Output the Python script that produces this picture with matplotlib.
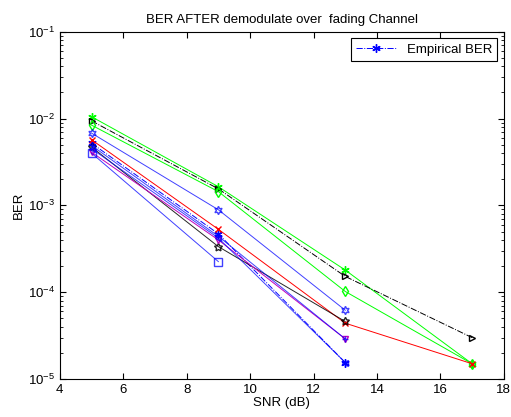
import numpy as np
import matplotlib
matplotlib.use("Agg")
import matplotlib.pyplot as plt

plt.rcParams['font.family'] = ['Liberation Sans', 'DejaVu Sans']
plt.rcParams['font.size'] = 9.5
plt.rcParams['mathtext.default'] = 'regular'

# SNR points (dB)
snr = [5, 9, 13, 17]

# BER curves
ber_empirical = [5.2e-3, 4.7e-4, 1.55e-5]
ber_green_star = [1.05e-2, 1.64e-3, 1.8e-4, 1.5e-5]
ber_black_tri = [9.4e-3, 1.55e-3, 1.52e-4, 3.0e-5]
ber_green_dia = [8.4e-3, 1.44e-3, 1.02e-4, 1.5e-5]
ber_blue_hex = [6.8e-3, 8.9e-4, 6.2e-5]
ber_red_x = [5.7e-3, 5.3e-4, 4.4e-5, 1.5e-5]
ber_black_pent = [4.7e-3, 3.35e-4, 4.6e-5]
ber_magenta_tri = [4.1e-3, 4.0e-4, 2.9e-5]
ber_blue_plus = [4.9e-3, 4.4e-4, 2.9e-5]
ber_blue_sq = [4.0e-3, 2.25e-4]
ber_blue_left = [4.5e-3, 4.2e-4, 1.55e-5]

# matlab-like markers
asterisk = (6, 2, 0)
hexagram = (6, 1, 0)
pentagram = (5, 1, 0)

fig, ax = plt.subplots(figsize=(5.11, 4.17), dpi=100)
fig.subplots_adjust(left=0.117, right=0.986, bottom=0.091, top=0.924)

lw = 0.7
ms = 5
ax.semilogy(snr[:3], ber_empirical, '-.', color='b', marker=asterisk, ms=ms + 1, lw=lw,
            label='Empirical BER')
ax.semilogy(snr, ber_green_star, '-', color='#00ff00', marker=asterisk, ms=ms + 1, lw=lw)
ax.semilogy(snr, ber_black_tri, '-.', color='k', marker='>', ms=ms, lw=lw, mfc='none')
ax.semilogy(snr, ber_green_dia, '-', color='#00ff00', marker='d', ms=ms, lw=lw, mfc='none')
ax.semilogy(snr[:3], ber_blue_hex, '-', color='b', marker=hexagram, ms=ms + 1, lw=lw,
            mfc='none', alpha=0.75)
ax.semilogy(snr, ber_red_x, '-', color='r', marker='x', ms=ms, lw=lw)
ax.semilogy(snr[:3], ber_black_pent, '-', color='k', marker=pentagram, ms=ms + 1, lw=lw,
            mfc='none', alpha=0.85)
ax.semilogy(snr[:3], ber_magenta_tri, '-', color='m', marker='v', ms=ms, lw=lw, mfc='none')
ax.semilogy(snr[:3], ber_blue_plus, '-', color='b', marker='+', ms=ms, lw=lw, alpha=0.75)
ax.semilogy(snr[:2], ber_blue_sq, '-', color='b', marker='s', ms=ms + 1, lw=lw,
            mfc='none', alpha=0.75)
ax.semilogy(snr[:3], ber_blue_left, '-', color='b', marker='<', ms=ms, lw=lw,
            mfc='none', alpha=0.75)

ax.set_xlim(4, 18)
ax.set_ylim(1e-5, 1e-1)
ax.set_xticks([4, 6, 8, 10, 12, 14, 16, 18])
ax.tick_params(which='both', direction='in', top=True, right=True)
ax.tick_params(which='major', length=4)
ax.tick_params(which='minor', length=2)

ax.set_title('BER AFTER demodulate over  fading Channel', fontsize=9.5)
ax.set_xlabel('SNR (dB)', labelpad=1)
ax.set_ylabel('BER', labelpad=2)

leg = ax.legend(loc='upper right', fancybox=False, edgecolor='k', framealpha=1,
                fontsize=9.5, handlelength=3)
leg.get_frame().set_linewidth(0.8)

plt.savefig('out.png', dpi=100)
